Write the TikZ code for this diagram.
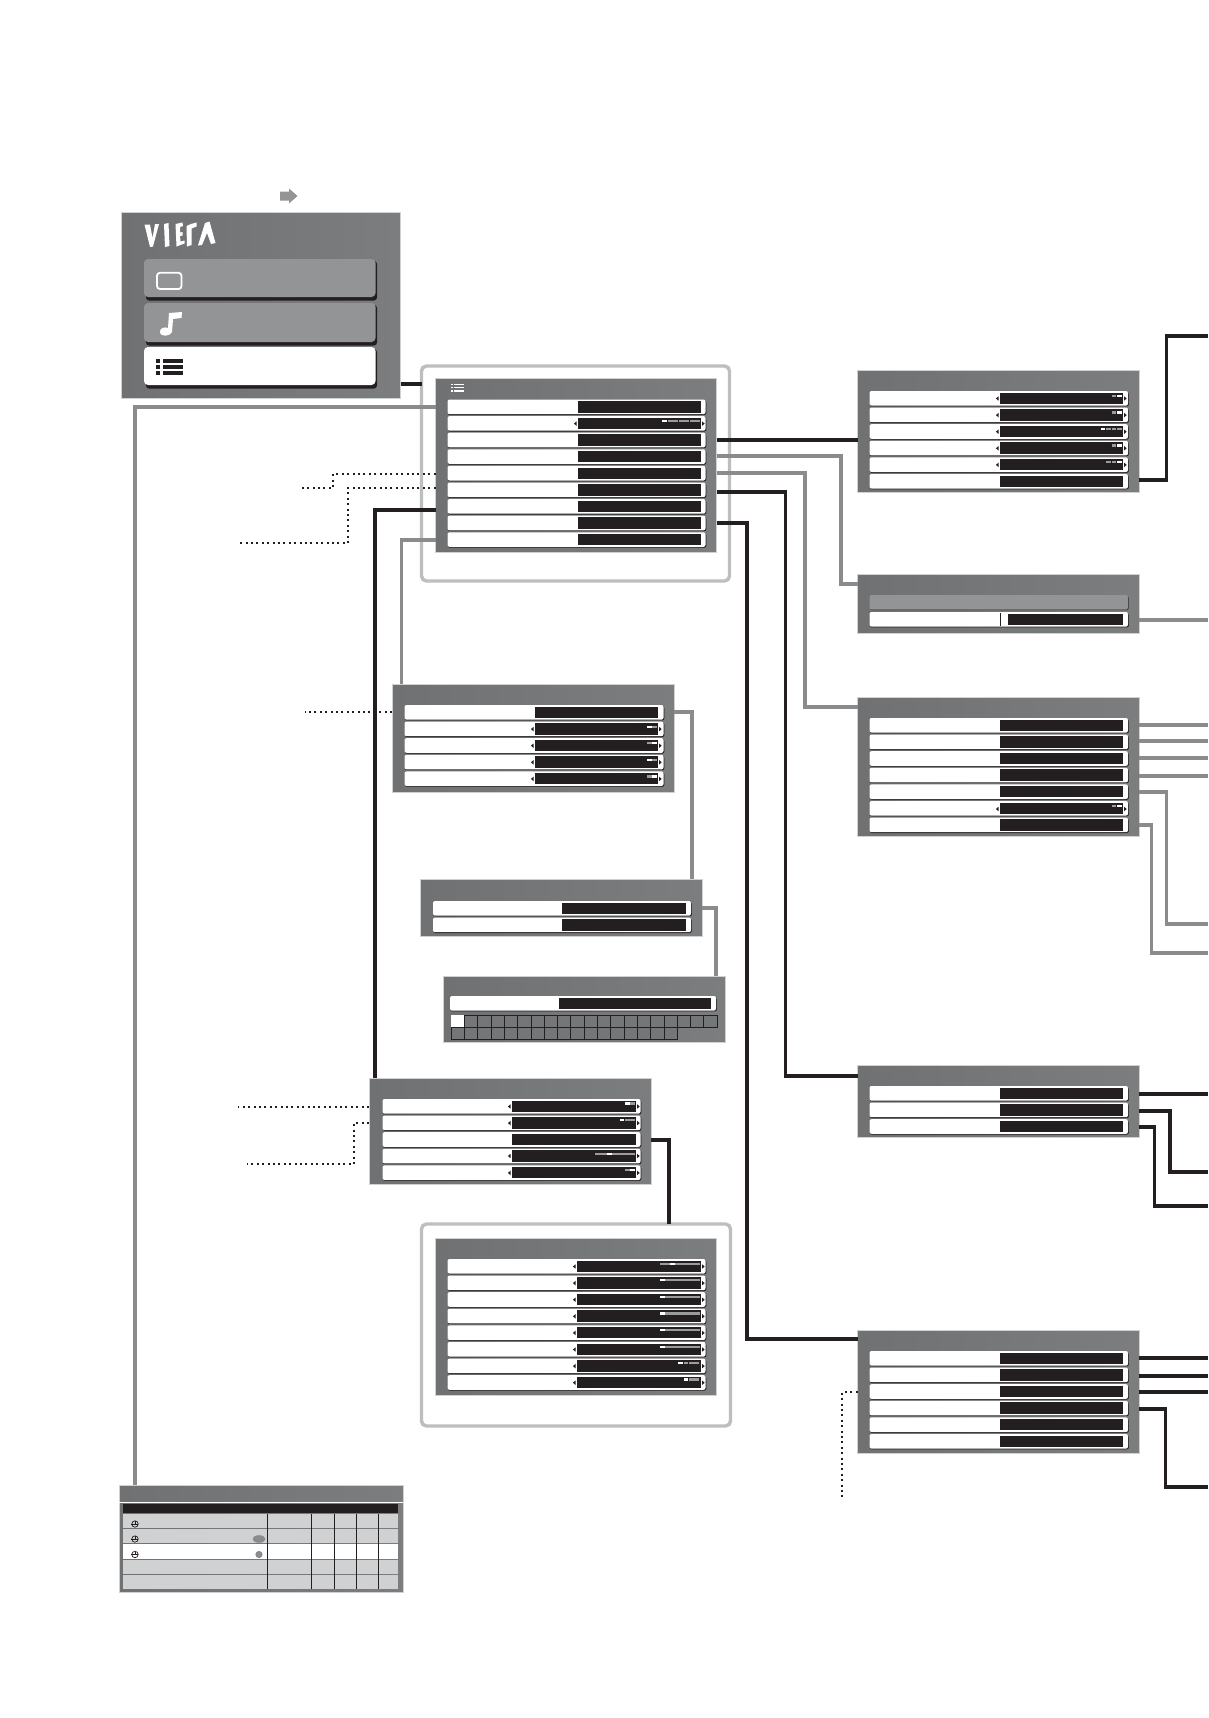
\documentclass[tikz,border=0pt]{standalone}
\definecolor{pgrayl}{HTML}{707172}
\definecolor{pgrayr}{HTML}{7C7D7E}
\definecolor{pgray}{HTML}{757677}
\definecolor{pedge}{HTML}{D0D1D2}
\definecolor{lgray}{HTML}{8A8B8C}
\definecolor{btn}{HTML}{939495}
\definecolor{ink}{HTML}{231F20}
\definecolor{frameg}{HTML}{BDBEBF}
\definecolor{cell}{HTML}{D0D1D2}
\tikzset{
  x=1pt,y=-1pt,
  panelbox/.style={rectangle,draw=pedge,line width=1pt,left color=pgrayl,right color=pgrayr,inner sep=0pt,outer sep=0pt,anchor=north west},
  framebox/.style={rectangle,rounded corners=5pt,draw=frameg,line width=3.4pt,fill=white,inner sep=0pt,outer sep=0pt,anchor=north west},
  rowbox/.style={rectangle,rounded corners=2pt,fill=white,inner sep=0pt,outer sep=0pt,anchor=north west},
  blackbox/.style={fill=ink},
  shadowline/.style={fill=ink,rounded corners=2pt},
  blk/.style={draw=ink,line width=3.6pt,line cap=butt,line join=miter},
  gry/.style={draw=lgray,line width=3.6pt,line cap=butt,line join=miter},
  dot/.style={draw=ink,line width=1.8pt,dash pattern=on 2pt off 3.4pt},
  tri/.style={fill=ink},
  pipon/.style={fill=white},
  pipoff/.style={fill=lgray!85!white},
}
% \panelnode{name}{x0}{y0}{x1}{y1}
\newcommand{\panelnode}[5]{\node[panelbox,minimum width={(#4-#2)*1pt},minimum height={(#5-#3)*1pt}] (#1) at (#2,#3) {};}
% \framenode{name}{x0}{y0}{x1}{y1}
\newcommand{\framenode}[5]{\node[framebox,minimum width={(#4-#2)*1pt},minimum height={(#5-#3)*1pt}] (#1) at (#2,#3) {};}
% \onerow{name}{x0}{x1}{y0}{blackx0}{blackx1}
\newcommand{\onerow}[6]{%
  \fill[shadowline] (#2+0.3,#4+1) rectangle (#3+0.8,#4+15.4);
  \node[rowbox,minimum width={(#3-#2)*1pt},minimum height=14.6pt] (#1) at (#2,#4) {};
  \fill[blackbox] (#5,#4+1.6) rectangle (#6,#4+13);
}
% \rowset{prefix}{count}{x0}{x1}{y0}{blackx0}{blackx1}
\newcommand{\rowset}[7]{%
  \foreach \ri in {1,...,#2}{%
    \pgfmathsetmacro{\ry}{#5+(\ri-1)*16.6}
    \onerow{#1\ri}{#3}{#4}{\ry}{#6}{#7}
  }
}
% \arrs{bx0}{bx1}{ycentre}
\newcommand{\arrs}[3]{%
  \fill[tri] (#1-1,#3-2.2) -- (#1-1,#3+2.2) -- (#1-3.6,#3) -- cycle;
  \fill[tri] (#2+1.6,#3-2.2) -- (#2+1.6,#3+2.2) -- (#2+4.2,#3) -- cycle;
}
% \pips{right}{y}{n}{active}{height}{pitch}
\newcommand{\pips}[6]{%
  \foreach \pq in {1,...,#3}{%
    \pgfmathsetmacro{\pxr}{#1-(#3-\pq)*#6}
    \pgfmathtruncatemacro{\ison}{\pq==#4?1:0}
    \ifnum\ison=1
      \fill[pipon] (\pxr-#6+0.8,#2-#5/2) rectangle (\pxr,#2+#5/2);
    \else
      \fill[pipoff] (\pxr-#6+0.8,#2-#5/2) rectangle (\pxr,#2+#5/2);
    \fi
  }
}
% \slider{x0}{x1}{y}{whitex}{whitew}{h}
\newcommand{\slider}[6]{%
  \fill[pipoff] (#1,#3-#6/2) rectangle (#2,#3+#6/2);
  \fill[pipon] (#4,#3-#6/2) rectangle (#4+#5,#3+#6/2);
}
\newcommand{\clockicon}[2]{%
  \draw[ink,line width=0.7pt] (#1,#2) circle (3.2pt);
  \draw[ink,line width=0.8pt] (#1,#2-3) -- (#1,#2) -- (#1+3,#2) (#1-3.6,#2) -- (#1,#2);
}
\begin{document}
\begin{tikzpicture}
\useasboundingbox (0,0) rectangle (1208,1718);
\fill[white] (0,0) rectangle (1208,1718);

% small arrow
\fill[btn] (280,191.5) -- (289,191.5) -- (289,188.5) -- (297.5,196) -- (289,203.5) -- (289,200.5) -- (280,200.5) -- cycle;

% frames
\framenode{mainframe}{421.5}{366}{729.5}{581}
\framenode{kframe}{421.5}{1224}{730.5}{1426}

% panels
\panelnode{top}{121}{212}{400.5}{398}
\panelnode{main}{435.5}{378}{716.5}{552}
\panelnode{pb}{857.5}{370}{1139}{492}
\panelnode{pc}{857.5}{574}{1139}{633}
\panelnode{pd}{857.5}{697}{1139}{836}
\panelnode{pe}{857.5}{1065}{1139}{1137}
\panelnode{pf}{857.5}{1330}{1139}{1453}
\panelnode{pg}{392}{684}{674}{792}
\panelnode{ph}{420}{879}{702}{936}
\panelnode{pi}{443}{976}{725}{1042}
\panelnode{pj}{369}{1078}{651}{1184}
\panelnode{pk}{435.5}{1238}{716.5}{1395}
\panelnode{table}{119}{1485}{403}{1592}

% elbow coordinates
\coordinate (eA) at (135,407);
\coordinate (eB) at (375,510);
\coordinate (eC) at (401.5,540);
\coordinate (eD) at (841,584);
\coordinate (eE) at (805,707);
\coordinate (eF) at (785.5,1076);
\coordinate (eG) at (747,1339);
\coordinate (eH) at (1166.5,336);
\coordinate (eI) at (692,712);
\coordinate (eJ) at (716,908);
\coordinate (eK) at (669,1140);
\coordinate (eL) at (1166.5,924);
\coordinate (eM) at (1151.5,953);
\coordinate (eN) at (1170,1172);
\coordinate (eO) at (1154.5,1206);
\coordinate (eP) at (1165.5,1487);
\coordinate (d1a) at (333,474);
\coordinate (d1b) at (333,488);
\coordinate (d1c) at (302,488);
\coordinate (d2a) at (348,488);
\coordinate (d2b) at (348,543);
\coordinate (d2c) at (240,543);
\coordinate (d3) at (305,712);
\coordinate (d4) at (238,1107);
\coordinate (d5a) at (354,1123);
\coordinate (d5b) at (354,1164);
\coordinate (d5c) at (247,1164);
\coordinate (d6a) at (842,1392);
\coordinate (d6b) at (842,1498);
\coordinate (r336) at (1208,336);
\coordinate (r620) at (1208,620);
\coordinate (r725) at (1208,725);
\coordinate (r741) at (1208,741);
\coordinate (r758) at (1208,758);
\coordinate (r776) at (1208,776);
\coordinate (r924) at (1208,924);
\coordinate (r953) at (1208,953);
\coordinate (r1094) at (1208,1094);
\coordinate (r1172) at (1208,1172);
\coordinate (r1206) at (1208,1206);
\coordinate (r1358) at (1208,1358);
\coordinate (r1376) at (1208,1376);
\coordinate (r1392) at (1208,1392);
\coordinate (r1487) at (1208,1487);

% connectors
\draw[blk] (top.east |- 0,384) -- (mainframe.west |- 0,384);
\draw[gry] (main.west |- eA) -- (eA) -- (table.north -| eA);
\draw[blk] (main.west |- eB) -- (eB) -- (pj.north -| eB);
\draw[gry] (main.west |- eC) -- (eC) -- (pg.north -| eC);
\draw[blk] (main.east |- 0,440) -- (pb.west |- 0,440);
\draw[gry] (main.east |- 0,456) -| (eD) -- (pc.west |- eD);
\draw[gry] (main.east |- 0,473) -| (eE) -- (pd.west |- eE);
\draw[blk] (main.east |- 0,492) -| (eF) -- (pe.west |- eF);
\draw[blk] (main.east |- 0,523) -| (eG) -- (pf.west |- eG);
\draw[blk] (pb.east |- 0,480) -| (eH) -- (r336);
\draw[gry] (pc.east |- r620) -- (r620);
\draw[gry] (pd.east |- r725) -- (r725);
\draw[gry] (pd.east |- r741) -- (r741);
\draw[gry] (pd.east |- r758) -- (r758);
\draw[gry] (pd.east |- r776) -- (r776);
\draw[gry] (pd.east |- 0,792) -| (eL) -- (r924);
\draw[gry] (pd.east |- 0,825) -| (eM) -- (r953);
\draw[blk] (pe.east |- r1094) -- (r1094);
\draw[blk] (pe.east |- 0,1111) -| (eN) -- (r1172);
\draw[blk] (pe.east |- 0,1127) -| (eO) -- (r1206);
\draw[blk] (pf.east |- r1358) -- (r1358);
\draw[blk] (pf.east |- r1376) -- (r1376);
\draw[blk] (pf.east |- r1392) -- (r1392);
\draw[blk] (pf.east |- 0,1409) -| (eP) -- (r1487);
\draw[gry] (pg.east |- eI) -- (eI) -- (ph.north -| eI);
\draw[gry] (ph.east |- eJ) -- (eJ) -- (pi.north -| eJ);
\draw[blk] (pj.east |- eK) -- (eK) -- (kframe.north -| eK);
% dotted
\draw[dot] (main.west |- d1a) -- (d1a) -- (d1b) -- (d1c);
\draw[dot] (main.west |- d2a) -- (d2a) -- (d2b) -- (d2c);
\draw[dot] (pg.west |- d3) -- (d3);
\draw[dot] (pj.west |- d4) -- (d4);
\draw[dot] (pj.west |- d5a) -- (d5a) -- (d5b) -- (d5c);
\draw[dot] (pf.west |- d6a) -- (d6a) -- (d6b);

% top menu
\fill[ink,rounded corners=3pt] (146,261) rectangle (377,300.5);
\node[rowbox,rounded corners=4pt,fill=btn,minimum width=231.5pt,minimum height=38pt] (btnA) at (144,259) {};
\fill[ink,rounded corners=3pt] (146,305) rectangle (377,345.5);
\node[rowbox,rounded corners=4pt,fill=btn,minimum width=231.5pt,minimum height=39pt] (btnB) at (144,303) {};
\fill[ink,rounded corners=3pt] (146,349) rectangle (377,388.5);
\node[rowbox,rounded corners=4pt,minimum width=231.5pt,minimum height=38pt] (btnC) at (144,347) {};
\draw[white,line width=1.8pt,rounded corners=3pt] (157,272.8) rectangle (181.5,289);
% note icon
\fill[white] (160,331.5) .. controls (160,328) and (165,326.5) .. (168,328) -- (169,313) -- (182,312) -- (181.5,318) -- (173,319) -- (172,332) .. controls (171,336) and (160,338) .. (160,331.5) -- cycle;
% list icon
\foreach \ly in {358.5,364.8,371}{\fill[ink] (156,\ly) rectangle (160,\ly+4.4);\fill[ink] (163,\ly) rectangle (183,\ly+4.4);}
% logo
\fill[white] (144.5,224.5) -- (150,224.5) -- (152.5,238) -- (155,224) -- (159,224) -- (153,246.5) -- (150,247) -- cycle;
\fill[white] (164,224) -- (168.5,223) -- (169.5,246) -- (165,247) -- cycle;
\fill[white] (175.5,224) -- (182.5,222.5) -- (183,226) -- (180,227) -- (180,232.5) -- (182.5,232) -- (182.5,235.5) -- (180,236) -- (180.5,241.5) -- (184.5,240.5) -- (184.5,243.5) -- (176.5,246.5) -- cycle;
\fill[white] (186.5,226) -- (191,224) -- (196.5,222.5) -- (196.5,226.5) -- (191.5,228.5) -- (191.5,245) -- (187,246.5) -- cycle;
\fill[white] (198,245.5) -- (205,223) -- (209.5,221.5) -- (215.5,243) -- (211,244) -- (207,233) -- (202,245) -- cycle;

% main rows
\rowset{mr}{9}{447.5}{705.5}{399.5}{577.5}{700.5}
\arrs{577.5}{700.5}{423.6}
\pips{700}{421}{7}{1}{2.4}{5.5}
\foreach \ly in {384.3,387.7,391}{\fill[white] (450.5,\ly-0.6) rectangle (452.5,\ly+0.6);\fill[white] (453.5,\ly-0.6) rectangle (463.5,\ly+0.6);}

% panel b
\rowset{br}{6}{869.5}{1128}{391}{999.5}{1122.5}
\foreach \i/\yy/\n/\a/\h in {1/396/2/2/2.2,2/412.5/2/2/3.2,3/429/4/1/2.2,4/445.5/2/2/3,5/462/3/3/2.2}{%
  \pgfmathsetmacro{\cy}{391+(\i-1)*16.6+7.5}
  \arrs{999.5}{1122.5}{\cy}
  \pips{1121.5}{\yy}{\n}{\a}{\h}{5.4}
}

% panel c
\fill[shadowline] (870,596) rectangle (1128.6,610);
\node[rowbox,fill=btn,minimum width=258.5pt,minimum height=14.6pt] (crh) at (869.5,595) {};
\onerow{cr}{869.5}{1128}{612}{1007.5}{1122.5}
\fill[ink] (999.5,612.5) rectangle (1000.2,626);

% panel d
\rowset{dr}{7}{869.5}{1128}{718}{999.5}{1122.5}
\arrs{999.5}{1122.5}{809}
\pips{1121.5}{806}{2}{2}{2.2}{5.4}

% panel e, f
\rowset{er}{3}{869.5}{1128}{1086}{999.5}{1122.5}
\rowset{fr}{6}{869.5}{1128}{1351}{999.5}{1122.5}

% panel g
\rowset{gr}{5}{404.5}{663.5}{705}{534.5}{657.5}
\foreach \i/\a/\h in {2/1/2.2,3/2/2.2,4/1/2.2,5/2/3.2}{%
  \pgfmathsetmacro{\cy}{705+(\i-1)*16.6+7.5}
  \pgfmathsetmacro{\py}{705+(\i-1)*16.6+5}
  \arrs{534.5}{657.5}{\cy}
  \pips{657}{\py}{2}{\a}{\h}{5.4}
}

% panel h
\rowset{hr}{2}{433}{691}{901}{562}{686}

% panel i
\fill[shadowline] (450.3,997) rectangle (716.8,1011.4);
\node[rowbox,minimum width=266pt,minimum height=14.6pt] (irow) at (450,996) {};
\fill[blackbox] (558.5,997.5) rectangle (711,1009);
\foreach \c in {0,...,19}{\draw[ink,line width=0.6pt,fill=pgray] (451+\c*13.3,1015) rectangle ++(13.3,12);}
\foreach \c in {0,...,16}{\draw[ink,line width=0.6pt,fill=pgray] (451+\c*13.3,1027) rectangle ++(13.3,12);}
\fill[white] (451.3,1015.3) rectangle (463.5,1026.7);

% panel j
\rowset{jr}{5}{382.5}{640.5}{1099}{511.5}{635.5}
\foreach \i/\n/\a in {1/2/1,2/3/1,5/2/2}{%
  \pgfmathsetmacro{\cy}{1099+(\i-1)*16.6+7.5}
  \pgfmathsetmacro{\py}{1099+(\i-1)*16.6+4.3}
  \arrs{511.5}{635.5}{\cy}
  \pips{635}{\py}{\n}{\a}{2.4}{5.4}
}
\arrs{511.5}{635.5}{1156}
\slider{595}{634.5}{1154}{607}{4.5}{2}

% panel k
\rowset{kr}{8}{447.5}{705.5}{1259}{576.5}{700.5}
\foreach \i in {1,...,8}{%
  \pgfmathsetmacro{\cy}{1259+(\i-1)*16.6+7.5}
  \arrs{576.5}{700.5}{\cy}
}
\slider{660}{699.5}{1263.5}{670}{4.5}{2}
\foreach \i/\h in {2/2,3/2,4/3,5/2,6/2}{%
  \pgfmathsetmacro{\py}{1259+(\i-1)*16.6+4.5}
  \slider{660}{699.5}{\py}{660}{5}{\h}
}
\pips{699}{1363}{4}{1}{2.2}{5.4}
\pips{699}{1379.5}{3}{1}{2.2}{5.4}

% table
\draw[white,line width=0.8pt] (119,1502) -- (403,1502);
\fill[ink] (123,1504) rectangle (398,1513);
\foreach \nm/\ya/\yb/\cc in {tr1/1514/1528/cell,tr2/1529.3/1543/cell,tr3/1544/1559/white,tr4/1560.3/1574/cell,tr5/1575.3/1589/cell}{%
  \fill[\cc] (123,\ya) rectangle (398,\yb);
  \coordinate (\nm) at (123,\ya);
}
\foreach \vx in {267,311,334,356,378}{\draw[ink,line width=0.9pt] (\vx,1514) -- (\vx,1589);}
\clockicon{135}{1524}
\clockicon{135}{1539}
\clockicon{135}{1554.5}
\fill[lgray] (259,1539) ellipse (6.5pt and 3.8pt);
\fill[lgray] (259,1554.5) circle (3.6pt);
\end{tikzpicture}
\end{document}
